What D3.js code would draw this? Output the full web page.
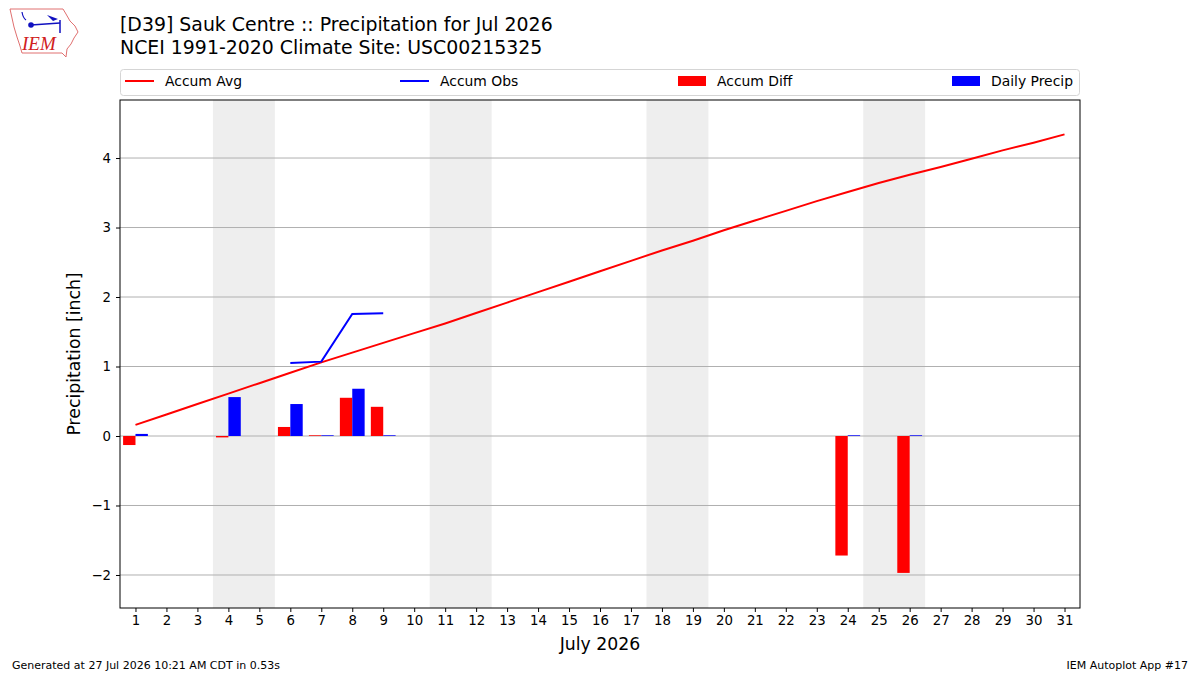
<!DOCTYPE html>
<html>
<head>
<meta charset="utf-8">
<script src="https://cdn.jsdelivr.net/npm/d3@7"></script>
<style>
  body { margin: 0; background: #fff; }
  svg { font-family: "DejaVu Sans", sans-serif; }
</style>
</head>
<body>
<div id="viz-container"></div>
<script>
// data
let days = d3.range(1, 32);
let accumAvg = [0.16, 0.31, 0.46, 0.61, 0.76, 0.91, 1.06, 1.20, 1.34, 1.48,
  1.62, 1.77, 1.92, 2.07, 2.22, 2.37, 2.52, 2.67, 2.81, 2.96,
  3.10, 3.24, 3.38, 3.51, 3.64, 3.76, 3.87, 3.99, 4.11, 4.22, 4.34];
let obsDays = [6, 7, 8, 9];
let accumObs = [1.05, 1.07, 1.755, 1.765];
let barDays = [1, 4, 6, 7, 8, 9, 24, 26];
let accumDiff = [-0.13, -0.02, 0.13, 0.01, 0.55, 0.42, -1.72, -1.97];
let dailyPrecip = [0.03, 0.56, 0.46, 0.01, 0.68, 0.01, 0.01, 0.01];
let weekends = [[4, 5], [11, 12], [18, 19], [25, 26]];
let yTicks = [-2, -1, 0, 1, 2, 3, 4];

let W = 1200, H = 675;
let pLeft = 120, pRight = 1080, pTop = 100, pBottom = 608;

let viz = d3.select("#viz-container")
  .append("svg")
    .attr("width", W)
    .attr("height", H)
;

let x = d3.scaleLinear().domain([0.5, 31.5]).range([pLeft, pRight]);
let y = d3.scaleLinear().domain([-2.475, 4.835]).range([pBottom, pTop]);

// weekend shading
viz.selectAll(".wkend").data(weekends).enter()
  .append("rect")
    .attr("class", "wkend")
    .attr("x", d => x(d[0] - 0.5))
    .attr("width", d => x(d[1] + 0.5) - x(d[0] - 0.5))
    .attr("y", pTop)
    .attr("height", pBottom - pTop)
    .attr("fill", "#eeeeee")
;

// grid
viz.selectAll(".grid").data(yTicks).enter()
  .append("line")
    .attr("class", "grid")
    .attr("x1", pLeft)
    .attr("x2", pRight)
    .attr("y1", d => y(d))
    .attr("y2", d => y(d))
    .attr("stroke", "#b0b0b0")
    .attr("stroke-width", 1)
;

// bars
let barW = 0.4;
viz.selectAll(".diff").data(barDays).enter()
  .append("rect")
    .attr("class", "diff")
    .attr("x", d => x(d - barW))
    .attr("width", x(barW) - x(0))
    .attr("y", (d, i) => y(Math.max(0, accumDiff[i])))
    .attr("height", (d, i) => Math.abs(y(accumDiff[i]) - y(0)))
    .attr("fill", "red")
;
viz.selectAll(".daily").data(barDays).enter()
  .append("rect")
    .attr("class", "daily")
    .attr("x", d => x(d))
    .attr("width", x(barW) - x(0))
    .attr("y", (d, i) => y(Math.max(0, dailyPrecip[i])))
    .attr("height", (d, i) => Math.abs(y(dailyPrecip[i]) - y(0)))
    .attr("fill", "blue")
;

// lines
let line = d3.line().x(d => x(d[0])).y(d => y(d[1]));
viz.append("path")
  .datum(days.map((d, i) => [d, accumAvg[i]]))
    .attr("d", line)
    .attr("fill", "none")
    .attr("stroke", "red")
    .attr("stroke-width", 2)
;
viz.append("path")
  .datum(obsDays.map((d, i) => [d, accumObs[i]]))
    .attr("d", line)
    .attr("fill", "none")
    .attr("stroke", "blue")
    .attr("stroke-width", 2)
;

// axes
let xAxis = viz.append("g")
  .attr("transform", "translate(0," + pBottom + ")")
  .call(d3.axisBottom(x).tickValues(days).tickFormat(d3.format("d")).tickSize(4).tickPadding(4));
let yAxis = viz.append("g")
  .attr("transform", "translate(" + pLeft + ",0)")
  .call(d3.axisLeft(y).tickValues(yTicks).tickFormat(d => d < 0 ? "\u2212" + Math.abs(d) : d).tickSize(4).tickPadding(5));
[xAxis, yAxis].forEach(function(a){
  a.select(".domain").remove();
  a.selectAll("text").attr("font-size", 13.3).attr("fill", "#000").attr("font-family", "DejaVu Sans");
  a.selectAll("line").attr("stroke", "#000");
});
viz.append("rect")
  .attr("x", pLeft)
  .attr("y", pTop)
  .attr("width", pRight - pLeft)
  .attr("height", pBottom - pTop)
  .attr("fill", "none")
  .attr("stroke", "#000")
  .attr("stroke-width", 1)
;

// labels
viz.append("text")
  .text("July 2026")
    .attr("x", (pLeft + pRight) / 2)
    .attr("y", 650)
    .attr("text-anchor", "middle")
    .attr("font-size", 17.3)
;
viz.append("text")
  .text("Precipitation [inch]")
    .attr("transform", "translate(80," + (pTop + pBottom) / 2 + ") rotate(-90)")
    .attr("text-anchor", "middle")
    .attr("font-size", 17.3)
;
viz.append("text")
  .text("[D39] Sauk Centre :: Precipitation for Jul 2026")
    .attr("x", 120)
    .attr("y", 31)
    .attr("font-size", 18.9)
;
viz.append("text")
  .text("NCEI 1991-2020 Climate Site: USC00215325")
    .attr("x", 120)
    .attr("y", 54)
    .attr("font-size", 18.9)
;
viz.append("text")
  .text("Generated at 27 Jul 2026 10:21 AM CDT in 0.53s")
    .attr("x", 12)
    .attr("y", 669)
    .attr("font-size", 11)
;
viz.append("text")
  .text("IEM Autoplot App #17")
    .attr("x", 1188)
    .attr("y", 669)
    .attr("text-anchor", "end")
    .attr("font-size", 11)
;

// legend
let legendItems = [
  {name: "Accum Avg", kind: "line", color: "red", x: 125},
  {name: "Accum Obs", kind: "line", color: "blue", x: 400},
  {name: "Accum Diff", kind: "rect", color: "red", x: 678},
  {name: "Daily Precip", kind: "rect", color: "blue", x: 952}
];
viz.append("rect")
  .attr("x", 120.5)
  .attr("y", 69.5)
  .attr("width", 959)
  .attr("height", 26)
  .attr("rx", 3)
  .attr("fill", "#fff")
  .attr("stroke", "#d5d5d5")
;
let lg = viz.selectAll(".lg").data(legendItems).enter()
  .append("g")
    .attr("class", "lg")
    .attr("transform", d => "translate(" + d.x + ",81)")
;
lg.filter(d => d.kind == "line").append("line")
  .attr("x1", 0).attr("x2", 29).attr("y1", 0).attr("y2", 0)
  .attr("stroke", d => d.color).attr("stroke-width", 2);
lg.filter(d => d.kind == "rect").append("rect")
  .attr("x", 0).attr("y", -5).attr("width", 28).attr("height", 10)
  .attr("fill", d => d.color);
lg.append("text")
  .text(d => d.name)
    .attr("x", d => d.kind == "line" ? 40 : 39)
    .attr("y", 5)
    .attr("font-size", 13.9)
;

// IEM logo
let logo = viz.append("g");
logo.append("path")
  .attr("d", "M10,9 L63,9 L66,14 L70,21 L75,26 L78,32 L74,38 L71,44 L67,49 L66,57 L62,53 L22,53 L20,46 L17,37 L14,27 L12,18 Z")
  .attr("fill", "none")
  .attr("stroke", "#e07070")
  .attr("stroke-width", 1);
logo.append("line").attr("x1", 31).attr("y1", 25).attr("x2", 60).attr("y2", 23)
  .attr("stroke", "#1010c0").attr("stroke-width", 1.5);
logo.append("circle").attr("cx", 31).attr("cy", 25).attr("r", 2.8).attr("fill", "#1010c0");
logo.append("path").attr("d", "M47,15 L58,19 L53,21 Z").attr("fill", "#1010c0");
logo.append("line").attr("x1", 60).attr("y1", 20).attr("x2", 60).attr("y2", 33)
  .attr("stroke", "#1010c0").attr("stroke-width", 1.5);
logo.append("path").attr("d", "M22,12 Q23,18 26,20").attr("fill", "none")
  .attr("stroke", "#1010c0").attr("stroke-width", 1.2);
logo.append("text")
  .text("IEM")
    .attr("x", 22)
    .attr("y", 50)
    .attr("font-family", "Liberation Serif")
    .attr("font-style", "italic")
    .attr("font-size", 19)
    .attr("fill", "#d02020")
;
</script>
</body>
</html>
